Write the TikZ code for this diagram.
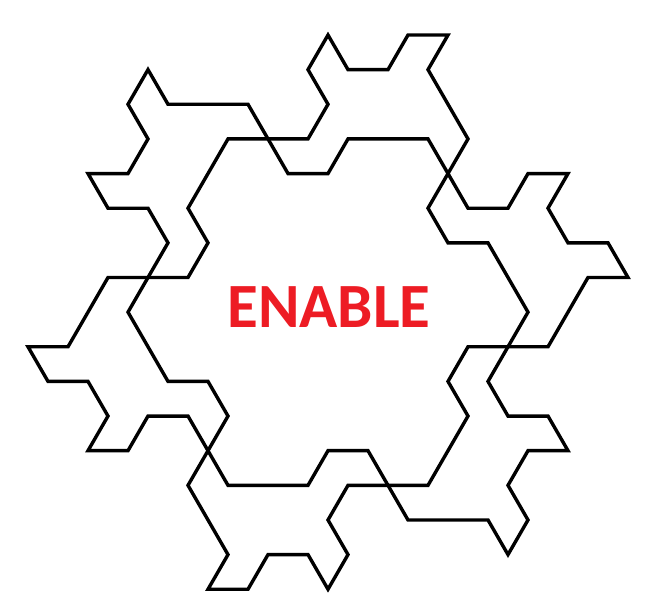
\documentclass[tikz,border=0pt]{standalone}
\usepackage{fontspec}
\setmainfont{Carlito}
\usepackage{xcolor}
\usetikzlibrary{positioning}
\definecolor{enablered}{RGB}{237,28,36}

\begin{document}
\begin{tikzpicture}[
  x=1pt, y=-1pt,
  tile/.style={draw=black, line width=3.4pt, line join=miter},
  lattice/.style={shift={(8pt,-35pt)}, x={(20pt,0pt)}, y={(0pt,-34.641pt)}},
  word/.style={font=\fontsize{63}{63}\selectfont\bfseries, text=enablered, inner sep=0pt}
]
\useasboundingbox (0,0) rectangle (667,615);

% First closed outline
\begin{scope}[lattice]
\draw[tile] (7,1) -- (8,2) -- (12,2) -- (14,4) -- (16,4) -- (17,3) -- (21,3)
  -- (23,5) -- (25,5) -- (26,4) -- (28,4) -- (27,5) -- (28,6) -- (30,6)
  -- (31,7) -- (29,7) -- (27,9) -- (23,9) -- (22,10) -- (23,11) -- (21,13)
  -- (17,13) -- (16,14) -- (17,15) -- (16,16) -- (15,15) -- (13,15)
  -- (12,16) -- (10,16) -- (11,15) -- (9,13) -- (11,11) -- (10,10)
  -- (8,10) -- (6,8) -- (8,6) -- (7,5) -- (5,5) -- (4,4) -- (6,4)
  -- (7,3) -- (6,2) -- cycle;

% Second closed outline
\draw[tile] (16,0) -- (17,1) -- (19,1) -- (20,0) -- (22,0) -- (21,1)
  -- (23,3) -- (21,5) -- (22,6) -- (24,6) -- (26,8) -- (24,10) -- (25,11)
  -- (27,11) -- (28,12) -- (26,12) -- (25,13) -- (26,14) -- (25,15)
  -- (24,14) -- (20,14) -- (18,12) -- (16,12) -- (15,13) -- (11,13)
  -- (9,11) -- (7,11) -- (6,12) -- (4,12) -- (5,11) -- (4,10) -- (2,10)
  -- (1,9) -- (3,9) -- (5,7) -- (9,7) -- (10,6) -- (9,5) -- (11,3)
  -- (15,3) -- (16,2) -- (15,1) -- cycle;
\end{scope}

% Centre label
\node[word] (enable) at (329,307) {ENABLE};

\end{tikzpicture}
\end{document}
